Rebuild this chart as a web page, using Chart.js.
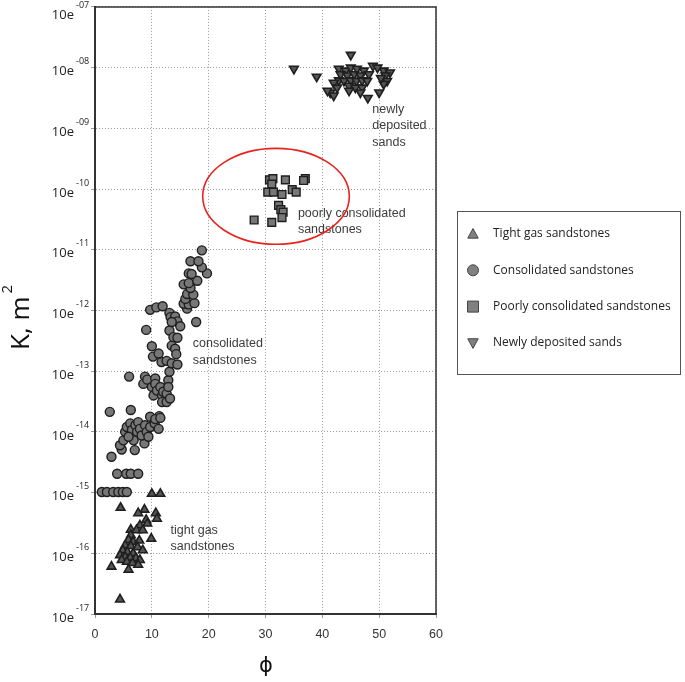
<!DOCTYPE html>
<html lang="en">
<head>
<meta charset="UTF-8">
<title>Permeability vs porosity</title>
<script src="https://cdn.jsdelivr.net/npm/chart.js"></script>
<style>
  body { margin: 0; background: #fff; }
  canvas { display: block; }
</style>
</head>
<body>
<canvas id="permChart" width="685" height="682"></canvas>
<script>
// porosity (phi) and exponent of K (log10 of m^2)
const tightPhi = [10.0, 11.5, 4.5, 8.7, 7.6, 10.7, 10.9, 9.0, 9.2, 7.9, 6.3, 7.3, 8.4, 6.3, 9.9, 5.9, 6.7, 7.8, 5.3,
  6.3, 7.5, 8.4, 4.9, 5.7, 6.7, 4.4, 5.3, 6.2, 7.2, 7.9, 4.7, 5.6, 6.6, 7.6, 2.9, 5.9, 4.4];
const tightExp = [-15.02, -15.02, -15.25, -15.28, -15.34, -15.34, -15.43, -15.45, -15.51, -15.54, -15.61, -15.62, -15.62, -15.70, -15.76, -15.78, -15.81, -15.79, -15.87,
  -15.88, -15.90, -15.95, -15.95, -15.98, -16.0, -16.03, -16.06, -16.07, -16.08, -16.11, -16.11, -16.14, -16.16, -16.19, -16.22, -16.27, -16.76];

const consPhi = [1.2, 2.1, 3.2, 4.1, 4.9, 5.6, 3.9, 5.5, 6.3, 7.6,
  2.9, 4.7, 4.4, 5.0, 7.0, 8.7, 5.3, 5.6, 6.2, 6.5, 7.1, 7.6, 7.4, 7.9, 8.2, 8.8, 9.1, 9.4, 9.7, 9.7, 10.5, 11.3, 11.2, 6.8, 5.9, 2.6, 6.3, 10.6, 11.5,
  6.0, 8.8, 8.5, 9.2, 10.0, 10.6, 10.6, 10.3, 10.9, 11.5, 11.8, 11.8, 12.0, 12.6, 12.6, 12.9, 12.9, 13.2, 13.1,
  11.7, 12.6, 13.5, 14.5, 10.2, 11.2, 10.0, 13.5, 14.1, 14.3, 9.0, 13.1, 13.8, 14.5,
  9.7, 10.8, 11.9, 13.1, 13.3, 14.1, 14.5, 15.0, 13.5, 17.8,
  16.2, 15.6, 16.5, 17.5, 15.9, 16.2, 17.3, 16.8, 15.6, 16.5, 18.0, 16.5, 17.0, 19.7, 18.8, 16.8, 18.2, 18.8];
const consExp = [-14.99, -14.99, -14.99, -14.99, -14.99, -14.99, -14.69, -14.69, -14.69, -14.69,
  -14.41, -14.29, -14.22, -14.14, -14.30, -14.19, -14.0, -13.92, -13.86, -13.97, -13.89, -13.84, -14.0, -13.95, -14.06, -13.89, -14.0, -14.08, -13.92, -13.75, -13.86, -13.74, -13.95, -14.14, -14.08, -13.67, -13.64, -13.79, -13.77,
  -13.09, -13.09, -13.21, -13.14, -13.26, -13.12, -13.21, -13.40, -13.32, -13.26, -13.40, -13.51, -13.34, -13.37, -13.51, -13.15, -13.26, -13.45, -13.01,
  -12.85, -12.83, -12.87, -12.89, -12.76, -12.71, -12.59, -12.58, -12.63, -12.72, -12.32, -12.33, -12.44, -12.45,
  -11.99, -11.95, -11.93, -12.04, -12.11, -12.10, -12.18, -12.26, -12.19, -12.19,
  -11.97, -11.89, -11.90, -11.88, -11.81, -11.73, -11.74, -11.63, -11.57, -11.55, -11.51, -11.39, -11.40, -11.39, -11.29, -11.19, -11.19, -11.01];

const poorPhi = [30.7, 31.3, 33.5, 37.0, 36.7, 31.1, 30.4, 31.4, 32.9, 34.7, 35.4, 32.3, 32.7, 33.1, 32.9, 28.0, 31.1];
const poorExp = [-9.85, -9.83, -9.85, -9.83, -9.86, -9.92, -10.05, -10.05, -10.09, -10.01, -10.05, -10.27, -10.34, -10.38, -10.47, -10.51, -10.55];

const newPhi = [35.0, 45.0, 39.0, 48.9, 42.9, 44.1, 45.0, 46.1, 47.3, 48.2, 43.2, 44.4, 45.6, 46.7, 42.9, 43.8, 45.0, 46.0, 47.0, 47.9,
  42.0, 42.6, 41.4, 42.0, 44.7, 45.8, 47.0, 44.7, 46.7, 48.0, 50.0, 50.8, 51.9, 51.1, 51.4, 50.8, 50.3, 49.7, 40.9];
const newExp = [-8.02, -7.79, -8.15, -7.97, -8.02, -8.05, -8.0, -8.02, -8.05, -8.11, -8.11, -8.13, -8.11, -8.13, -8.21, -8.22, -8.21, -8.22, -8.21, -8.22,
  -8.25, -8.33, -8.41, -8.46, -8.30, -8.33, -8.33, -8.38, -8.41, -8.50, -8.41, -8.05, -8.08, -8.13, -8.22, -8.27, -8.17, -8.0, -8.38];

const seriesNames = ['Tight gas sandstones', 'Consolidated sandstones', 'Poorly consolidated sandstones', 'Newly deposited sands'];
const xTicks = [0, 10, 20, 30, 40, 50, 60];
const yTickExps = [-17, -16, -15, -14, -13, -12, -11, -10, -9, -8, -7];

// text notes on the plot: [lines, phi, exponent of first line]
const notes = [
  [['newly', 'deposited', 'sands'], 48.8, -8.69],
  [['poorly consolidated', 'sandstones'], 35.7, -10.40],
  [['consolidated', 'sandstones'], 17.2, -12.55],
  [['tight gas', 'sandstones'], 13.3, -15.62]
];

const FILL = '#777';
const EDGE = '#1e1e1e';

function toPoints(phi, ex) {
  return phi.map((x, i) => ({ x: x, y: Math.pow(10, ex[i]) }));
}

const markers = [
  { style: 'triangle', radius: 5, rotation: 0 },
  { style: 'circle', radius: 4.5, rotation: 0 },
  { style: 'rect', radius: 5.5, rotation: 0 },
  { style: 'triangle', radius: 5, rotation: 180 }
];
const allData = [toPoints(tightPhi, tightExp), toPoints(consPhi, consExp), toPoints(poorPhi, poorExp), toPoints(newPhi, newExp)];

const datasets = allData.map((d, i) => ({
  label: seriesNames[i],
  data: d,
  pointStyle: markers[i].style,
  pointRadius: markers[i].radius,
  pointRotation: markers[i].rotation,
  backgroundColor: markers[i].style === 'triangle' ? '#555' : FILL,
  borderColor: EDGE,
  borderWidth: markers[i].style === 'triangle' ? 1.6 : 1.4
}));

function drawMarker(ctx, style, x, y, r, rot) {
  ctx.beginPath();
  if (style === 'circle') {
    ctx.arc(x, y, r, 0, Math.PI * 2);
  } else if (style === 'rect') {
    ctx.rect(x - r, y - r, 2 * r, 2 * r);
  } else {
    const s = rot ? -1 : 1;
    ctx.moveTo(x, y - s * r);
    ctx.lineTo(x + r * 0.95, y + s * r * 0.75);
    ctx.lineTo(x - r * 0.95, y + s * r * 0.75);
    ctx.closePath();
  }
  ctx.fill();
  ctx.stroke();
}

const extras = {
  id: 'extras',
  afterDraw(chart) {
    const ctx = chart.ctx;
    const xs = chart.scales.x, ys = chart.scales.y;
    const a = chart.chartArea;
    ctx.save();

    // top and right frame
    ctx.strokeStyle = '#333';
    ctx.lineWidth = 1.5;
    ctx.beginPath();
    ctx.moveTo(a.left, a.top);
    ctx.lineTo(a.right, a.top);
    ctx.lineTo(a.right, a.bottom);
    ctx.stroke();

    // y tick labels with superscript exponent
    ctx.fillStyle = '#222';
    yTickExps.forEach(e => {
      const y = Math.max(ys.getPixelForValue(Number('1e' + e)), 11);
      ctx.font = '13px "Open Sans"';
      ctx.textAlign = 'right';
      ctx.textBaseline = 'middle';
      ctx.fillText('10e', 74, y + 4);
      ctx.font = '9px "Open Sans"';
      ctx.textAlign = 'left';
      ctx.fillText('-' + String(-e).padStart(2, '0'), 76, y - 6);
    });

    // axis titles
    ctx.fillStyle = '#111';
    ctx.save();
    ctx.translate(29, 350);
    ctx.rotate(-Math.PI / 2);
    ctx.font = '26px "Open Sans"';
    ctx.textAlign = 'left';
    ctx.textBaseline = 'alphabetic';
    ctx.fillText('K, m', 0, 0);
    const w = ctx.measureText('K, m').width;
    ctx.font = '15px "Open Sans"';
    ctx.fillText('2', w + 3, -17);
    ctx.restore();

    ctx.font = '21px "DejaVu Sans"';
    ctx.textAlign = 'center';
    ctx.textBaseline = 'middle';
    ctx.fillText('\u03D5', (a.left + a.right) / 2 + 0.5, 667);

    // notes
    ctx.fillStyle = '#3c3c3c';
    ctx.font = '12.5px "Liberation Sans"';
    ctx.textAlign = 'left';
    ctx.textBaseline = 'middle';
    notes.forEach(n => {
      const x = xs.getPixelForValue(n[1]);
      const y = ys.getPixelForValue(Math.pow(10, n[2]));
      n[0].forEach((line, k) => ctx.fillText(line, x, y + k * 16.5));
    });

    // red ellipse round the poorly consolidated group
    const cx = xs.getPixelForValue(31.85);
    const cy = ys.getPixelForValue(Math.pow(10, -10.12));
    const rx = xs.getPixelForValue(31.85 + 12.9) - cx;
    const ry = ys.getPixelForValue(Math.pow(10, -10.12 - 0.79)) - cy;
    ctx.strokeStyle = '#e8231f';
    ctx.lineWidth = 1.6;
    ctx.beginPath();
    ctx.ellipse(cx, cy, rx, ry, 0, 0, Math.PI * 2);
    ctx.stroke();

    // legend box
    ctx.strokeStyle = '#555';
    ctx.lineWidth = 1;
    ctx.strokeRect(457.5, 211.5, 223, 163);
    ctx.font = '12px "Open Sans"';
    seriesNames.forEach((name, i) => {
      const y = 234 + i * 36.3;
      ctx.fillStyle = '#808080';
      ctx.strokeStyle = '#444';
      ctx.lineWidth = 1;
      const m = markers[i];
      drawMarker(ctx, m.style, 473, y, 5.5, m.rotation);
      ctx.fillStyle = '#222';
      ctx.fillText(name, 493, y);
    });

    ctx.restore();
  }
};

new Chart(document.getElementById('permChart'), {
  type: 'scatter',
  data: { datasets: datasets },
  options: {
    responsive: false,
    animation: false,
    layout: { padding: { top: 5, right: 249, left: 0, bottom: 0 } },
    plugins: { legend: { display: false }, tooltip: { enabled: false } },
    scales: {
      x: {
        type: 'linear',
        min: 0,
        max: 60,
        afterBuildTicks: s => { s.ticks = xTicks.map(v => ({ value: v })); },
        afterFit: s => { s.height = 68; },
        ticks: { padding: 9, color: '#333', font: { family: 'Liberation Sans', size: 12.5 } },
        grid: { color: '#9a9a9a', lineWidth: 1, tickLength: 4 },
        border: { color: '#333', width: 2, dash: [1, 2] }
      },
      y: {
        type: 'logarithmic',
        min: 1e-17,
        max: 1e-7,
        afterBuildTicks: s => { s.ticks = yTickExps.map(e => ({ value: Number('1e' + e), major: true })); },
        afterFit: s => { s.width = 95; },
        ticks: { display: false },
        grid: { color: '#9a9a9a', lineWidth: 1, tickLength: 4 },
        border: { color: '#333', width: 2, dash: [1, 2] }
      }
    }
  },
  plugins: [extras]
});
</script>
</body>
</html>
